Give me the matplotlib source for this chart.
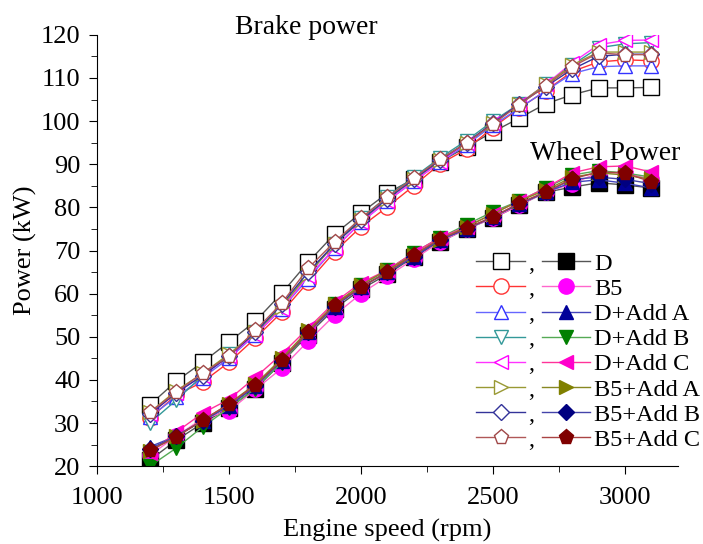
import numpy as np
import matplotlib
matplotlib.use("Agg")
import matplotlib.pyplot as plt
from matplotlib.ticker import MultipleLocator

plt.rcParams['font.family'] = ['Liberation Serif', 'DejaVu Serif']

# Daten
rpm = np.arange(1200, 3101, 100)

labels = ["D", "B5", "D+Add A", "D+Add B", "D+Add C", "B5+Add A", "B5+Add B", "B5+Add C"]

# Brake power (kW)
brake_D = [34.2, 39.7, 44.1, 48.8, 53.6, 60.1, 67.3, 73.8, 78.7, 83.3, 86.6, 90.6, 94.0, 97.5, 100.7, 104.0, 106.1, 107.7, 107.7, 107.8]
brake_B5 = [31.1, 36.5, 39.5, 44.1, 49.7, 55.7, 62.7, 69.7, 75.5, 80.1, 85.0, 90.1, 93.5, 98.5, 103.0, 107.0, 111.5, 113.7, 114.2, 114.0]
brake_DA = [31.5, 36.0, 40.5, 45.0, 50.5, 56.5, 63.5, 70.5, 76.5, 81.5, 86.0, 90.5, 94.5, 99.0, 103.0, 107.0, 111.0, 112.6, 112.8, 112.8]
brake_DB = [30.0, 35.3, 41.0, 46.0, 51.0, 57.0, 64.5, 71.5, 77.5, 82.5, 87.0, 91.5, 95.5, 100.0, 104.0, 108.5, 113.0, 117.0, 117.9, 118.2]
brake_DC = [32.0, 37.0, 41.0, 45.5, 50.5, 56.5, 64.0, 70.5, 76.5, 81.5, 86.0, 90.5, 95.0, 99.5, 104.0, 108.5, 113.5, 117.7, 118.7, 118.8]
brake_B5A = [32.5, 37.5, 41.5, 46.0, 51.0, 57.0, 64.5, 71.5, 77.0, 82.0, 86.5, 91.0, 95.0, 99.5, 104.0, 108.5, 113.0, 116.0, 116.0, 116.0]
brake_B5B = [32.0, 37.0, 41.0, 45.5, 51.0, 57.5, 65.0, 71.5, 77.0, 82.0, 86.5, 91.0, 95.0, 99.5, 104.0, 108.0, 112.0, 115.0, 115.5, 115.5]
brake_B5C = [32.5, 37.2, 41.6, 45.5, 51.5, 57.8, 65.9, 72.0, 77.5, 82.4, 86.8, 91.2, 94.9, 99.3, 103.8, 108.2, 112.6, 115.8, 115.4, 115.4]

# Wheel power (kW)
wheel_D = [21.4, 26.0, 30.0, 33.5, 38.0, 44.0, 50.5, 56.5, 61.0, 64.5, 68.5, 72.0, 75.0, 77.5, 80.5, 83.5, 84.7, 85.7, 85.2, 84.5]
wheel_B5 = [22.5, 27.0, 31.0, 32.8, 37.8, 42.7, 49.0, 55.0, 60.0, 64.0, 68.0, 72.0, 75.0, 77.5, 80.5, 83.5, 85.5, 88.0, 88.0, 86.5]
wheel_DA = [24.5, 27.0, 30.5, 34.0, 38.5, 44.5, 51.0, 57.0, 61.5, 65.0, 68.5, 72.5, 75.0, 77.8, 80.8, 83.5, 85.8, 86.4, 85.6, 84.5]
wheel_DB = [20.0, 24.2, 29.1, 33.5, 38.0, 44.0, 51.0, 57.5, 62.0, 65.5, 69.5, 73.0, 76.0, 79.0, 81.5, 84.5, 87.5, 88.5, 88.0, 87.0]
wheel_DC = [23.0, 27.9, 32.3, 35.5, 40.6, 46.0, 52.0, 58.0, 62.5, 65.5, 69.5, 73.0, 75.5, 78.5, 81.5, 84.5, 88.0, 89.4, 89.6, 88.2]
wheel_B5A = [23.5, 27.0, 30.5, 34.5, 39.0, 45.0, 51.5, 57.5, 62.0, 65.5, 69.0, 72.5, 75.5, 78.5, 81.5, 84.0, 87.0, 88.0, 87.5, 86.5]
wheel_B5B = [24.0, 27.0, 30.5, 34.0, 38.5, 44.5, 51.0, 57.0, 61.5, 65.0, 68.5, 72.5, 75.0, 77.8, 80.8, 83.5, 86.5, 87.0, 86.5, 85.5]
wheel_B5C = [23.7, 26.7, 30.7, 34.4, 38.8, 44.6, 51.1, 57.4, 61.5, 65.0, 69.0, 72.7, 75.2, 77.8, 81.0, 83.6, 86.6, 88.2, 88.0, 85.9]

brake = [brake_D, brake_B5, brake_DA, brake_DB, brake_DC, brake_B5A, brake_B5B, brake_B5C]
wheel = [wheel_D, wheel_B5, wheel_DA, wheel_DB, wheel_DC, wheel_B5A, wheel_B5B, wheel_B5C]

markers = ["s", "o", "^", "v", "<", ">", "D", "p"]
msizes = [11, 11, 10, 10, 10, 10, 8, 11]
# (line, marker edge) for brake, (line, marker face) for wheel
brake_col = [("#555555", "black"), ("#ff3333", "#ff3333"), ("#6666ff", "#3333ff"), ("#339999", "#339999"),
             ("#ff33ff", "#ff00ff"), ("#999933", "#999933"), ("#333399", "#333399"), ("#b05858", "#a04848")]
wheel_col = [("#555555", "black"), ("#ff66cc", "#ff00ff"), ("#4444bb", "#000099"), ("#55aa55", "#008000"),
             ("#ff3399", "#ff00cc"), ("#888822", "#808000"), ("#4444aa", "#000080"), ("#aa4444", "#800000")]

fig = plt.figure(figsize=(7.03, 5.44), dpi=100)
ax = fig.add_axes([0.138, 0.143, 0.826, 0.793])

h_open = []
h_fill = []
for i in range(8):
    lc, mc = brake_col[i]
    h, = ax.plot(rpm, brake[i], color=lc, lw=1.0, marker=markers[i], ms=msizes[i],
                 mfc="white", mec=mc, mew=1.0, label=",")
    h_open.append(h)
for i in range(8):
    lc, mc = wheel_col[i]
    h, = ax.plot(rpm, wheel[i], color=lc, lw=1.0, marker=markers[i], ms=msizes[i],
                 mfc=mc, mec=mc, mew=1.0, label=labels[i])
    h_fill.append(h)

ax.set_xlim(1000, 3200)
ax.set_ylim(20, 120)
ax.xaxis.set_major_locator(MultipleLocator(500))
ax.xaxis.set_minor_locator(MultipleLocator(250))
ax.yaxis.set_major_locator(MultipleLocator(10))
ax.yaxis.set_minor_locator(MultipleLocator(5))
ax.spines["top"].set_visible(False)
ax.spines["right"].set_visible(False)
ax.tick_params(which="major", direction="out", length=6, labelsize=19)
ax.tick_params(which="minor", direction="out", length=4)
ax.tick_params(axis="x", which="major", pad=9)
ax.tick_params(axis="y", which="major", pad=6)

ax.set_xlabel("Engine speed (rpm)", fontsize=19, labelpad=7)
ax.set_ylabel("Power (kW)", fontsize=19, labelpad=3)

ax.text(1523, 121.6, "Brake power", fontsize=20, ha="left", va="center", clip_on=False)
ax.text(2640, 92.4, "Wheel Power", fontsize=20, ha="left", va="center")

leg = ax.legend(h_open + h_fill, [h.get_label() for h in h_open + h_fill], ncol=2,
                loc="lower right", bbox_to_anchor=(700 / 703, 93 / 544),
                bbox_transform=fig.transFigure, frameon=False,
                fontsize=17.5, handlelength=2.0, handletextpad=0.15, columnspacing=0.3,
                labelspacing=0.13, borderpad=0.0, borderaxespad=0.0)

plt.savefig("out.png", dpi=100)
